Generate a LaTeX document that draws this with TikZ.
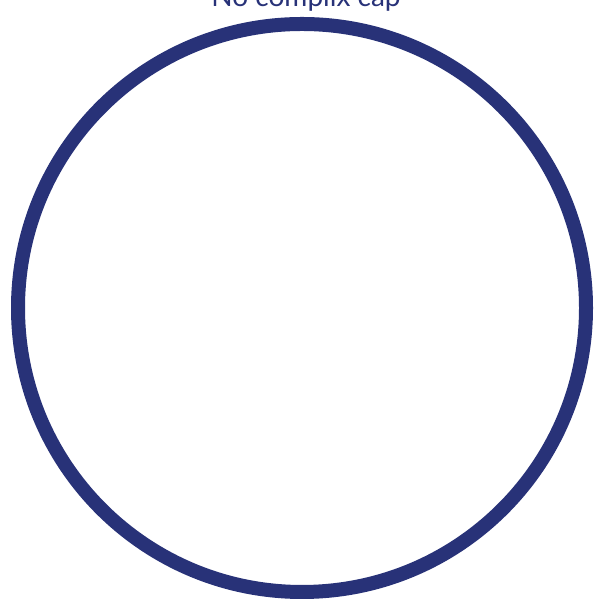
\documentclass[tikz,border=0pt]{standalone}
\usepackage{fontspec}
\setmainfont{Lato}
\definecolor{navy}{HTML}{283278}
\tikzset{ring/.style={draw=navy, line width=14pt}, captxt/.style={text=navy, font=\fontsize{28}{30}\selectfont, inner sep=0pt}}
\begin{document}
\begin{tikzpicture}[x=1pt,y=1pt]
\useasboundingbox (0,0) rectangle (602,601);
\clip (0,0) rectangle (602,601);
\node[ring, circle, minimum size=568pt, inner sep=0pt] (c) at (302,293) {};
\node[captxt, anchor=base] (t) at (306,594) {No complix cap};
\end{tikzpicture}
\end{document}
